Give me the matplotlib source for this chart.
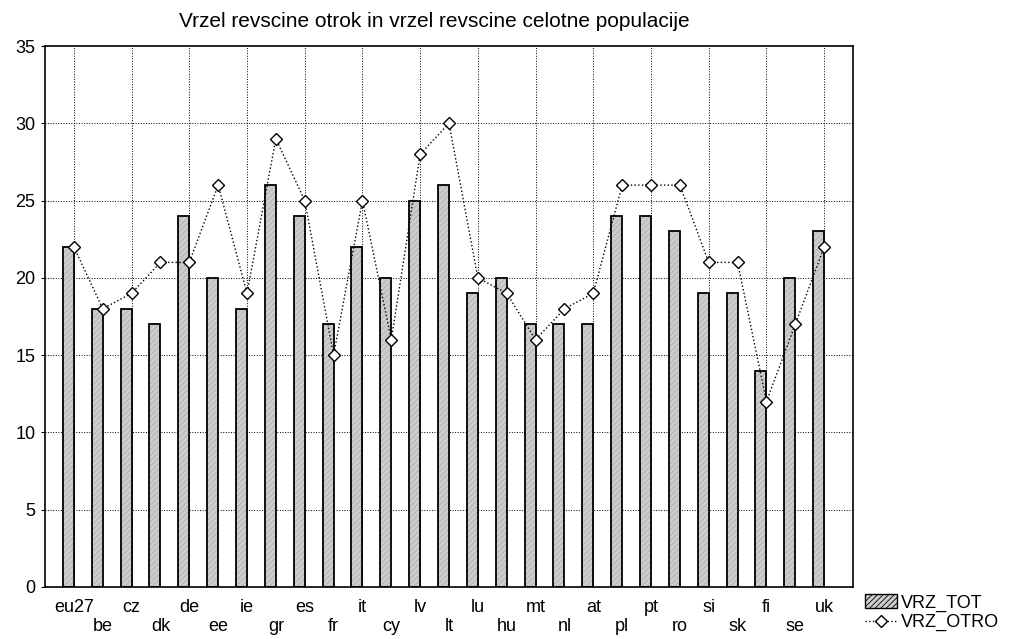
import matplotlib.pyplot as plt
import numpy as np

plt.rcParams['font.family'] = ['Liberation Sans', 'DejaVu Sans']
plt.rcParams['hatch.linewidth'] = 0.6
plt.rcParams['hatch.color'] = '#b0b0b0'

countries = ['eu27', 'be', 'cz', 'dk', 'de', 'ee', 'ie', 'gr', 'es', 'fr', 'it', 'cy', 'lv', 'lt',
             'lu', 'hu', 'mt', 'nl', 'at', 'pl', 'pt', 'ro', 'si', 'sk', 'fi', 'se', 'uk']
vrz_tot = [22, 18, 18, 17, 24, 20, 18, 26, 24, 17, 22, 20, 25, 26,
           19, 20, 17, 17, 17, 24, 24, 23, 19, 19, 14, 20, 23]
vrz_otro = [22, 18, 19, 21, 21, 26, 19, 29, 25, 15, 25, 16, 28, 30,
            20, 19, 16, 18, 19, 26, 26, 26, 21, 21, 12, 17, 22]

x = np.arange(len(countries))

fig = plt.figure(figsize=(10.16, 6.39), dpi=100)
ax = fig.add_axes([0.0443, 0.0814, 0.7953, 0.8466])

# fill with light hatch first, black outline on top
ax.bar(x, vrz_tot, width=-0.38, align='edge', color='#cdcdcd', edgecolor='#b0b0b0',
       linewidth=0, hatch='//////', zorder=2)
ax.bar(x, vrz_tot, width=-0.38, align='edge', fill=False, edgecolor='black',
       linewidth=1.3, zorder=2)
line, = ax.plot(x, vrz_otro, linestyle=':', color='black', linewidth=1, marker='D',
                markersize=6, markerfacecolor='white', markeredgecolor='black',
                markeredgewidth=1, zorder=3)

ax.set_xlim(-1, len(countries))
ax.set_ylim(0, 35)
ax.set_yticks(range(0, 36, 5))
ax.set_xticks(x)
ax.set_xticklabels([c if i % 2 == 0 else '\n' + c for i, c in enumerate(countries)],
                   fontsize=13, linespacing=1.1)
ax.tick_params(axis='y', labelsize=13, length=3, direction='out', pad=4)
ax.tick_params(axis='x', length=0, pad=9)

for yv in range(5, 35, 5):
    ax.axhline(yv, color='black', linestyle=':', linewidth=0.7, zorder=1)
for xv in x[::2]:
    ax.axvline(xv, color='black', linestyle=':', linewidth=0.7, zorder=1)

for s in ax.spines.values():
    s.set_linewidth(1.2)

fig.text(0.427, 0.958, 'Vrzel revscine otrok in vrzel revscine celotne populacije',
         fontsize=15, ha='center', va='baseline')

# legend handle for the bars
patch = plt.Rectangle((0, 0), 1, 1, facecolor='#cdcdcd', edgecolor='black',
                      linewidth=1, hatch='//////')
fig.legend([patch, line], ['VRZ_TOT', 'VRZ_OTRO'], loc='lower left',
           bbox_to_anchor=(0.841, -0.005), frameon=False, fontsize=13,
           handlelength=1.75, handleheight=0.8, handletextpad=0.25, labelspacing=0.12,
           borderaxespad=0.2)

fig.savefig('out.png')
